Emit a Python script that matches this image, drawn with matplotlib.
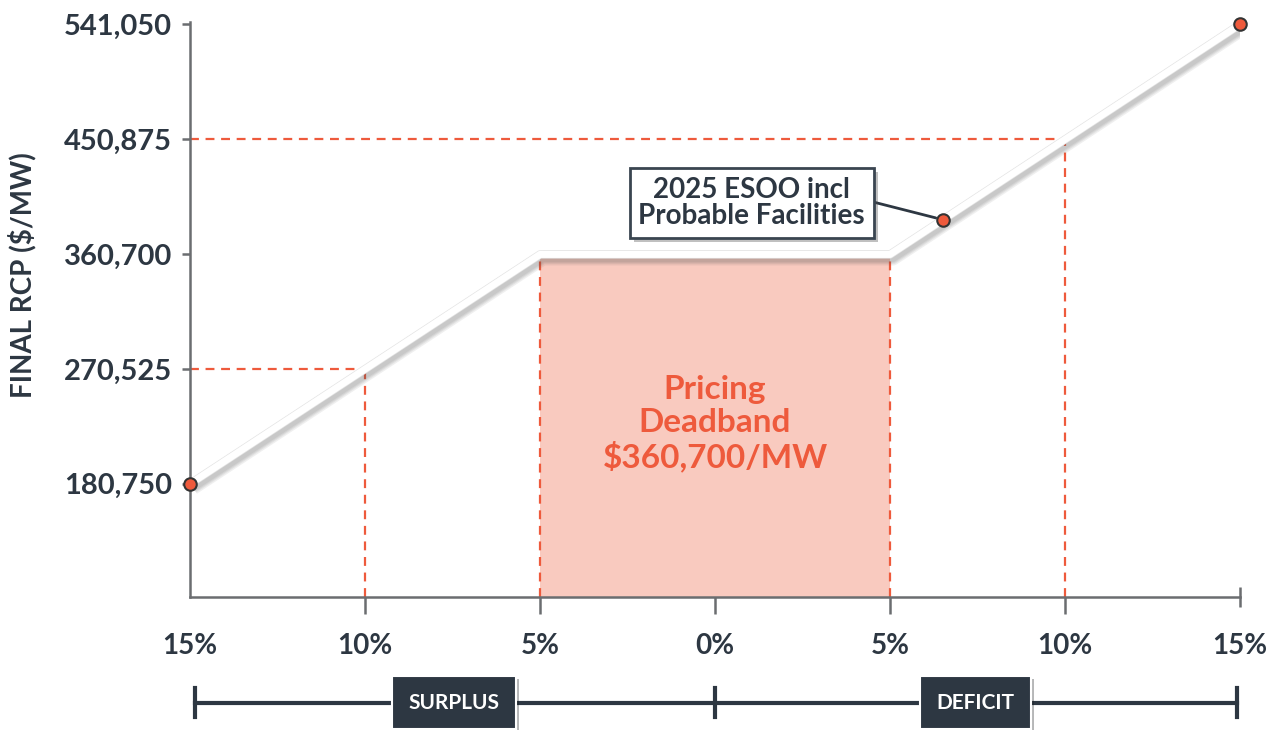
import numpy as np
import matplotlib.pyplot as plt
import matplotlib.patheffects as pe
import matplotlib.transforms as mtransforms

plt.rcParams['font.family'] = ['Lato', 'DejaVu Sans']

# data
curve_x = [-15, -5, 5, 15]
curve_rcp = [180750, 360700, 360700, 541050]
end_x = [-15, 15]
end_rcp = [180750, 541050]
esoo_x = 6.5
esoo_rcp = 388000
ref_x = [-10, 10]
ref_rcp = [270525, 450875]
band_x = [-5, 5]
band_rcp = 360700
yticks = [180750, 270525, 360700, 450875, 541050]
xticks = [-15, -10, -5, 0, 5, 10, 15]
xtick_labels = ['15%', '10%', '5%', '0%', '5%', '10%', '15%']

dark = '#2d3742'
red = '#ee5a3c'
axis_grey = '#6b6d70'

fig = plt.figure(figsize=(12.78, 7.30), dpi=100)
ax = fig.add_axes([190/1278, 1 - 597/730, 1050/1278, 575/730])
ax.set_xlim(-15, 15)
ax.set_ylim(92000, 543000)

# deadband fill
ax.fill_between(band_x, [ax.get_ylim()[0]]*2, [band_rcp]*2, color='#f9cabf', lw=0, zorder=1)
dash = dict(color=red, lw=1.6, ls=(0, (4, 3)), zorder=2)
for bx in band_x:
    ax.plot([bx, bx], [ax.get_ylim()[0], band_rcp], **dash)
# reference dashed lines
for rx, ry in zip(ref_x, ref_rcp):
    ax.plot([-15, rx], [ry, ry], **dash)
    ax.plot([rx, rx], [ax.get_ylim()[0], ry], **dash)

# RCP curve, white with soft shadow
shadow = [pe.SimpleLineShadow(offset=(2, -2.5), shadow_color='#555555', alpha=0.09, linewidth=w)
          for w in (11, 9, 7.5, 6)]
ax.plot(curve_x, curve_rcp, color='white', lw=5, solid_capstyle='butt', zorder=4,
        path_effects=shadow + [pe.Stroke(linewidth=6, foreground='#e4e4e4'), pe.Normal()])
ax.plot(end_x, end_rcp, 'o', ms=9, mfc=red, mec='#333333', mew=1.5, clip_on=False, zorder=6)
ax.plot([esoo_x], [esoo_rcp], 'o', ms=9, mfc=red, mec='#333333', mew=1.5, zorder=6)

# annotation
ann = ax.annotate('2025 ESOO incl\nProbable Facilities', xy=(esoo_x, esoo_rcp), xytext=(1.05, 401000),
                  ha='center', va='center', fontsize=20, fontweight='bold', color=dark,
                  linespacing=1.0, zorder=7,
                  bbox=dict(boxstyle='square,pad=0.32', fc='white', ec='#3a4550', lw=2),
                  arrowprops=dict(arrowstyle='-', color=dark, lw=2, relpos=(1, 0.56),
                                  shrinkA=0, shrinkB=5))
ann.get_bbox_patch().set_path_effects([pe.SimplePatchShadow(offset=(3, -3), alpha=0.35), pe.Normal()])

ax.text(0, 228000, 'Pricing\nDeadband\n$360,700/MW', ha='center', va='center', fontsize=24,
        fontweight='bold', color=red, linespacing=1.15, zorder=5)

# axes styling
for s in ['top', 'right']:
    ax.spines[s].set_visible(False)
for s in ['left', 'bottom']:
    ax.spines[s].set_color(axis_grey)
    ax.spines[s].set_linewidth(1.8)
ax.set_yticks(yticks)
ax.set_yticklabels([f'{v:,}' for v in yticks])
ax.set_xticks(xticks)
ax.set_xticklabels(xtick_labels)
ax.tick_params(axis='y', length=6, width=1.8, color=axis_grey, pad=7, labelsize=21, labelcolor=dark)
ax.tick_params(axis='x', length=12, width=1.8, color=axis_grey, pad=14, labelsize=20, labelcolor=dark)
for lab in ax.get_xticklabels() + ax.get_yticklabels():
    lab.set_fontweight('bold')
xt = ax.xaxis.get_major_ticks()
xt[0].tick1line.set_visible(False)
xt[-1].tick1line.set_marker('|')
xt[-1].tick1line.set_markersize(15)

ax.set_ylabel('FINAL RCP ($/MW)', fontsize=20, fontweight='bold', color=dark)
ax.yaxis.set_label_coords(-0.146, 0.56)

# surplus / deficit bar below the axis
trans = mtransforms.blended_transform_factory(ax.transData, ax.transAxes)
bar_y = -0.184
ax.plot([-14.85, 14.9], [bar_y, bar_y], color=dark, lw=3, transform=trans, clip_on=False)
for cx in [-14.85, 0, 14.9]:
    ax.plot([cx, cx], [bar_y - 0.025, bar_y + 0.025], color=dark, lw=3, transform=trans, clip_on=False)
for lx, lab in [(-7.45, 'SURPLUS'), (7.45, 'DEFICIT')]:
    t = ax.text(lx, bar_y, lab, transform=trans, ha='center', va='center', fontsize=15,
                fontweight='bold', color='white', zorder=8,
                bbox=dict(boxstyle='square,pad=0.8', fc=dark, ec='white', lw=1.5))
    t.get_bbox_patch().set_path_effects([pe.SimplePatchShadow(offset=(2, -2), alpha=0.3), pe.Normal()])

fig.savefig('out.png', dpi=100)
